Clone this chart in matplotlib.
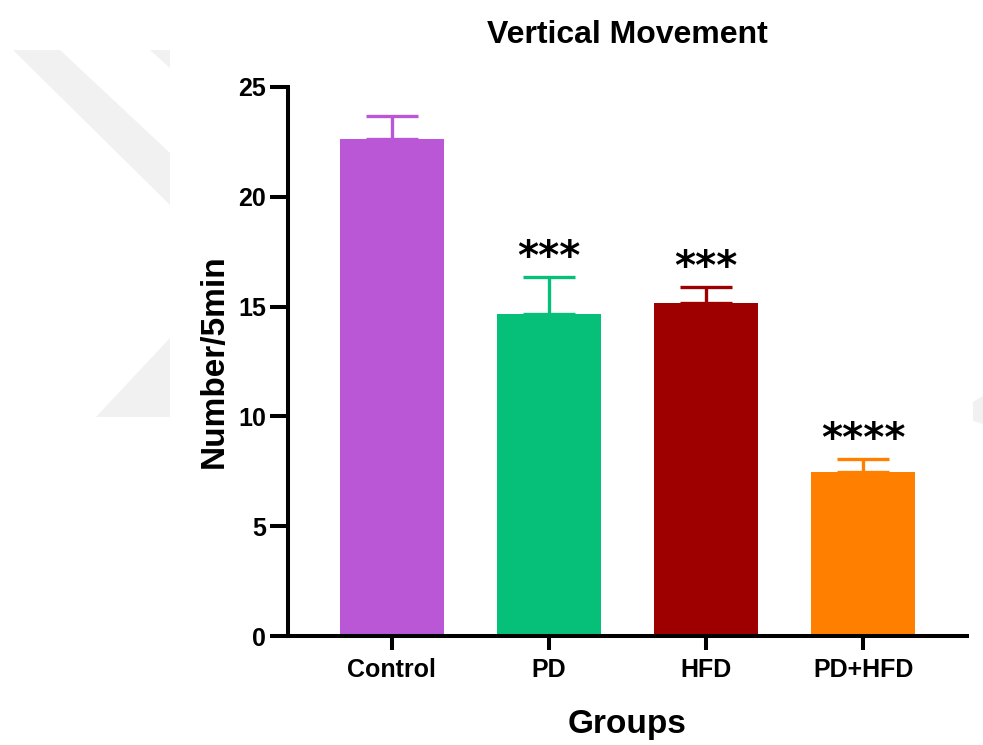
import numpy as np
import matplotlib
matplotlib.use("Agg")
import matplotlib.pyplot as plt
from matplotlib.patches import Polygon

plt.rcParams["font.family"] = ["Liberation Sans", "DejaVu Sans"]
plt.rcParams["font.weight"] = "bold"

# ─── data ───
groups = ["Control", "PD", "HFD", "PD+HFD"]
means = [22.65, 14.68, 15.18, 7.48]
sems = [1.05, 1.68, 0.72, 0.60]
stars = ["", "***", "***", "****"]
colors = ["#B957D7", "#06BF79", "#9E0000", "#FF8000"]

W, H = 983, 745
fig = plt.figure(figsize=(W / 100, H / 100), dpi=100)


def px(x, y):
    """pixel (from top-left) -> figure fraction"""
    return (x / W, 1 - y / H)


# faint watermark behind the chart (left strip + a sliver on the right)
wm = "#f1f1f1"
for poly in [
    [(13, 50), (60, 50), (170, 153), (170, 205)],
    [(150, 50), (170, 50), (170, 68)],
    [(96, 417), (170, 338), (170, 417)],
    [(973, 402), (983, 396), (983, 424), (973, 421)],
]:
    fig.patches.append(Polygon([px(*p) for p in poly], closed=True,
                               transform=fig.transFigure, fc=wm, ec="none",
                               zorder=0))

ax = fig.add_axes([288 / W, 1 - 636 / H, (967 - 288) / W, (636 - 87) / H])
ax.patch.set_alpha(0)

x = np.arange(len(groups))
ax.bar(x, means, width=0.66, color=colors, zorder=2)
for xi, m, s, c in zip(x, means, sems, colors):
    ax.errorbar(xi, m, yerr=[[0], [s]], fmt="none", ecolor=c,
                elinewidth=2.4, capsize=19, capthick=2.4, zorder=1)

for xi, m, s, st in zip(x, means, sems, stars):
    if st:
        ax.text(xi, m + s + 0.85, st, ha="center", va="center",
                fontsize=29, fontweight="bold", family="DejaVu Sans")

ax.set_xlim(-0.66, 3.66)
ax.set_ylim(0, 25)
ax.set_yticks([0, 5, 10, 15, 20, 25])
ax.set_xticks(x)
ax.set_xticklabels(groups)

for side in ["top", "right"]:
    ax.spines[side].set_visible(False)
for side in ["left", "bottom"]:
    ax.spines[side].set_linewidth(2.9)
    ax.spines[side].set_capstyle("projecting")

ax.tick_params(axis="y", length=13, width=2.9, labelsize=18, pad=3)
ax.tick_params(axis="x", length=10, width=2.9, labelsize=18, pad=6)
for lab in ax.get_xticklabels() + ax.get_yticklabels():
    lab.set_fontweight("bold")

ax.set_title("Vertical Movement", fontsize=23, fontweight="bold", pad=32)
ax.set_xlabel("Groups", fontsize=24, fontweight="bold", labelpad=19)
ax.set_ylabel("Number/5min", fontsize=24, fontweight="bold", labelpad=6)

plt.savefig("out.png", dpi=100)
plt.close()
